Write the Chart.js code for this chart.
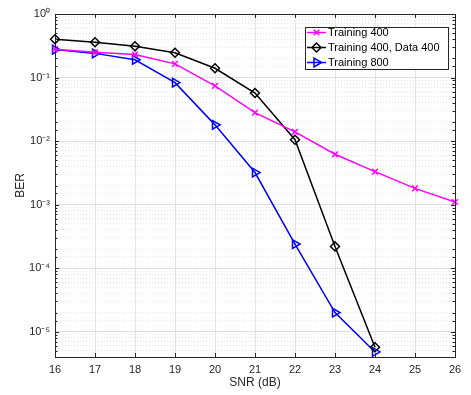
<!DOCTYPE html>
<html>
<head>
<meta charset="utf-8">
<script src="https://cdn.jsdelivr.net/npm/chart.js@4.4.0/dist/chart.umd.min.js"></script>
<style>
html, body { margin: 0; padding: 0; background: #fff; }
</style>
</head>
<body>
<canvas id="myChart" width="471" height="395"></canvas>
<script>
var snr = [16, 17, 18, 19, 20, 21, 22, 23, 24, 25, 26];
var berTrain400 = [0.28, 0.25, 0.23, 0.164, 0.074, 0.028, 0.014, 0.0062, 0.0033, 0.0018, 0.0011];
var berTrain400Data400 = [0.40, 0.36, 0.31, 0.245, 0.14, 0.057, 0.0105, 0.00022, 0.0000057];
var berTrain800 = [0.275, 0.24, 0.19, 0.083, 0.018, 0.0032, 0.00024, 0.00002, 0.0000048];
var yTicks = [1, 0.1, 0.01, 0.001, 0.0001, 0.00001];
var yTickLabels = ['10⁰', '10⁻¹', '10⁻²', '10⁻³', '10⁻⁴', '10⁻⁵'];

var axisColor = '#262626';
var fontFamily = '"Liberation Sans", Arial, Helvetica, sans-serif';

function toPoints(ys) {
    var pts = [];
    for (var i = 0; i < ys.length; i++) {
        pts.push({ x: snr[i], y: ys[i] });
    }
    return pts;
}

function isMajor(v) {
    var l = Math.log10(v);
    return Math.abs(l - Math.round(l)) < 1e-6;
}

var data = {
    datasets: [
        {
            label: 'Training 400',
            data: toPoints(berTrain400),
            borderColor: '#ff00ff',
            backgroundColor: 'rgba(0,0,0,0)',
            pointStyle: 'crossRot',
            pointRadius: 4,
            pointBorderWidth: 1.5,
            borderWidth: 1.5
        },
        {
            label: 'Training 400, Data 400',
            data: toPoints(berTrain400Data400),
            borderColor: '#000000',
            backgroundColor: 'rgba(0,0,0,0)',
            pointStyle: 'rectRot',
            pointRadius: 4.5,
            pointBorderWidth: 1.5,
            borderWidth: 1.5
        },
        {
            label: 'Training 800',
            data: toPoints(berTrain800),
            borderColor: '#0000ff',
            backgroundColor: 'rgba(0,0,0,0)',
            pointStyle: 'triangle',
            pointRotation: 90,
            pointRadius: 5,
            pointBorderWidth: 1.5,
            borderWidth: 1.5
        }
    ]
};

// box, inward ticks and legend like the matlab figure
var boxPlugin = {
    id: 'box',
    afterDraw: function(chart) {
        var ctx = chart.ctx;
        var a = chart.chartArea;
        var xs = chart.scales.x, ys = chart.scales.y;
        ctx.save();
        ctx.strokeStyle = axisColor;
        ctx.lineWidth = 1;
        ctx.beginPath();
        ctx.moveTo(a.left, a.top + 0.5);
        ctx.lineTo(a.right + 0.5, a.top + 0.5);
        ctx.lineTo(a.right + 0.5, a.bottom);
        ctx.stroke();

        ctx.beginPath();
        xs.ticks.forEach(function(t) {
            var px = Math.round(xs.getPixelForValue(t.value)) + 0.5;
            ctx.moveTo(px, a.bottom);
            ctx.lineTo(px, a.bottom - 4);
            ctx.moveTo(px, a.top);
            ctx.lineTo(px, a.top + 4);
        });
        ys.ticks.forEach(function(t) {
            var py = Math.round(ys.getPixelForValue(t.value)) + 0.5;
            var len = isMajor(t.value) ? 4 : 2.5;
            ctx.moveTo(a.left, py);
            ctx.lineTo(a.left + len, py);
            ctx.moveTo(a.right, py);
            ctx.lineTo(a.right - len, py);
        });
        ctx.stroke();

        // legend
        var bw = 143, bh = 42;
        var bx = a.right - 7 - bw, by = a.top + 13;
        ctx.fillStyle = '#ffffff';
        ctx.fillRect(bx, by, bw, bh);
        ctx.strokeStyle = axisColor;
        ctx.strokeRect(bx + 0.5, by + 0.5, bw, bh);
        ctx.font = '11px ' + fontFamily;
        ctx.textBaseline = 'middle';
        ctx.textAlign = 'left';
        chart.data.datasets.forEach(function(ds, i) {
            var cy = by + 5 + i * 15 + 0.5;
            ctx.strokeStyle = ds.borderColor;
            ctx.lineWidth = 1.5;
            ctx.beginPath();
            ctx.moveTo(bx + 2, cy);
            ctx.lineTo(bx + 21, cy);
            ctx.stroke();
            ctx.fillStyle = 'rgba(0,0,0,0)';
            Chart.helpers.drawPoint(ctx, {
                pointStyle: ds.pointStyle,
                radius: ds.pointRadius,
                rotation: ds.pointRotation || 0,
                borderWidth: 1.5
            }, bx + 11.5, cy);
            ctx.fillStyle = '#000000';
            ctx.fillText(ds.label, bx + 23, cy);
        });
        ctx.restore();
    }
};

var options = {
    responsive: false,
    animation: false,
    devicePixelRatio: 1,
    layout: { padding: { top: 14, right: 16, left: 0, bottom: 0 } },
    plugins: {
        legend: { display: false },
        tooltip: { enabled: false }
    },
    elements: { line: { tension: 0 } },
    clip: false,
    scales: {
        x: {
            type: 'linear',
            min: 16,
            max: 26,
            afterFit: function(s) { s.height = 38; },
            ticks: {
                stepSize: 1,
                padding: 6,
                color: axisColor,
                font: { family: fontFamily, size: 11 }
            },
            grid: { color: '#e4e4e4', drawTicks: false },
            border: { color: axisColor, width: 1 },
            title: {
                display: true,
                text: 'SNR (dB)',
                color: axisColor,
                font: { family: fontFamily, size: 12 },
                padding: { top: 0, bottom: 5 }
            }
        },
        y: {
            type: 'logarithmic',
            min: 0.000004,
            max: 1,
            afterFit: function(s) { s.width = 55; },
            ticks: {
                autoSkip: false,
                padding: 5,
                color: axisColor,
                font: { family: fontFamily, size: 11 },
                callback: function(value) {
                    for (var i = 0; i < yTicks.length; i++) {
                        if (Math.abs(value - yTicks[i]) / yTicks[i] < 1e-6) return yTickLabels[i];
                    }
                    return '';
                }
            },
            grid: {
                drawTicks: false,
                color: function(c) {
                    if (c.tick && isMajor(c.tick.value)) return '#e0e0e0';
                    return '#e6e6e6';
                }
            },
            border: {
                color: axisColor,
                width: 1,
                dash: function(c) {
                    if (c.tick && !isMajor(c.tick.value)) return [1, 2];
                    return [];
                }
            },
            title: {
                display: true,
                text: 'BER',
                color: axisColor,
                font: { family: fontFamily, size: 12 },
                padding: { top: 13, bottom: 0 }
            }
        }
    }
};

var ctx1 = document.getElementById('myChart').getContext('2d');
var berChart = new Chart(ctx1, {
    type: 'line',
    data: data,
    options: options,
    plugins: [boxPlugin]
});
</script>
</body>
</html>
